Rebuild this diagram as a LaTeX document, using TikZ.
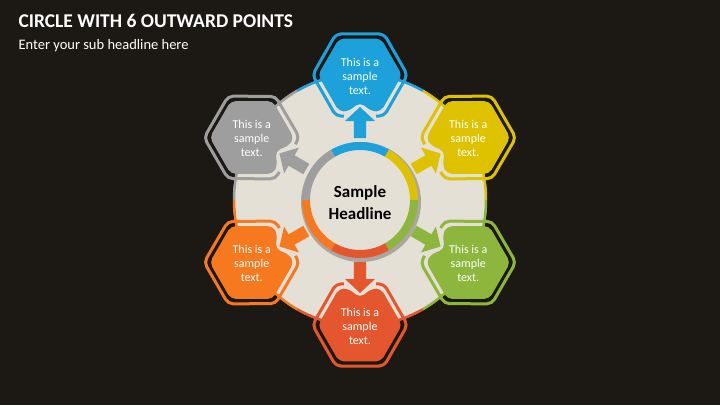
\documentclass[tikz,border=0pt]{standalone}
\usepackage{fontspec}
\setmainfont{Carlito}
\definecolor{bgdark}{HTML}{1C1914}
\definecolor{disc}{HTML}{E4E0D6}
\definecolor{pblue}{HTML}{1DA1DB}
\definecolor{pyellow}{HTML}{DEC200}
\definecolor{pgreen}{HTML}{8CB63C}
\definecolor{pred}{HTML}{E4572E}
\definecolor{porange}{HTML}{F7791F}
\definecolor{pgray}{HTML}{9E9E9E}

\begin{document}
\begin{tikzpicture}[x=1pt,y=1pt,
		hexfill/.style={rounded corners=5pt},
		hexline/.style={line width=3pt,rounded corners=5pt},
		hextext/.style={text=white,align=center,font=\fontsize{12}{14}\selectfont},
		ringseg/.style={line width=8pt}]
	\fill[bgdark] (-360,-205) rectangle (360,200);
	\node[anchor=base west,text=white,font=\bfseries\fontsize{19.5}{22}\selectfont] (title) at (-345,173) {CIRCLE WITH 6 OUTWARD POINTS};
	\node[anchor=base west,text=white,font=\fontsize{14.5}{17}\selectfont] (subtitle) at (-345,151) {Enter your sub headline here};
	% big disc with coloured rim
	\fill[disc] (0,0) circle (127);
	\foreach \ang/\col in {90/pblue,30/pyellow,-30/pgreen,-90/pred,-150/porange,150/pgray}
		\draw[\col,line width=2.5pt] (\ang-30:126) arc (\ang-30:\ang+30:126);
	% outward points
	\foreach \ang/\col [count=\i] in {90/pblue,30/pyellow,-30/pgreen,-90/pred,-150/porange,150/pgray}{
		\begin{scope}[shift={(\ang:125)},rotate=\ang-90]
			\draw[hexline,\col] (-16,-41.1) -- (-24,-41.1) -- (-47.5,0) -- (-24,41.1) -- (24,41.1) -- (47.5,0) -- (24,-41.1) -- (16,-41.1);
			\fill[hexfill,\col] (0,36.4) -- (-21,36.4) -- (-42,0) -- (-21,-36.4) -- (-12,-36.4) -- (0,-27.4) -- (12,-36.4) -- (21,-36.4) -- (42,0) -- (21,36.4) -- cycle;
		\end{scope}
		\fill[\col,rotate=\ang-90] (-6,62) -- (-6,79) -- (-15,79) -- (0,93) -- (15,79) -- (6,79) -- (6,62) -- cycle;
		\node[hextext,yshift=-1pt] (point\i) at (\ang:125) {This is a\\sample\\text.};
	}
	% centre ring
	\fill[black,opacity=0.25] (1,-2) circle (60);
	\fill[disc] (0,0) circle (57);
	\foreach \ang/\col in {90/pblue,30/pyellow,-30/pgreen,-90/pred,-150/porange,150/pgray}
		\draw[ringseg,\col] (\ang-30:54) arc (\ang-30:\ang+30:54);
	\node[align=center,font=\bfseries\fontsize{17}{22}\selectfont] (headline) at (0,-3) {Sample\\Headline};
\end{tikzpicture}
\end{document}
